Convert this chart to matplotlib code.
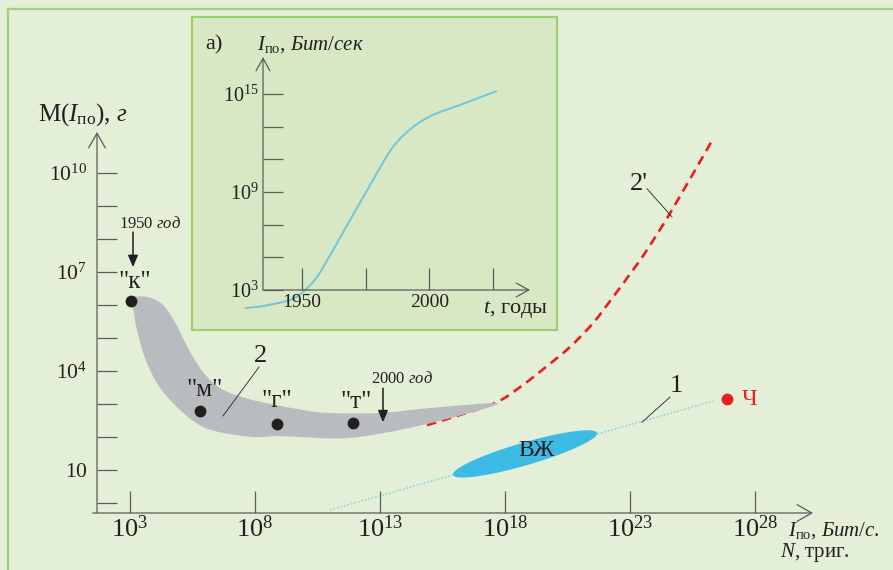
import numpy as np
import matplotlib.pyplot as plt
from matplotlib.patches import Rectangle, PathPatch
from matplotlib.lines import Line2D
from matplotlib.path import Path

plt.rcParams['font.family'] = ['Liberation Serif', 'DejaVu Serif']
plt.rcParams['mathtext.fontset'] = 'custom'
plt.rcParams['mathtext.rm'] = 'Liberation Serif'
plt.rcParams['mathtext.it'] = 'Liberation Serif:italic'
plt.rcParams['mathtext.bf'] = 'Liberation Serif:bold'

BG = '#e3efd7'
INSET_BG = '#d9e8c4'
FRAME = '#a3d07c'
AXC = '#5c5c5c'
TXT = '#231f20'

# ---- данные (показатели степени, log10) ----
# точки: "к", "м", "г", "т"
pt_names = ['"к"', '"м"', '"г"', '"т"']
pt_x = [3.04, 5.8, 8.88, 11.92]
pt_y = [6.12, 2.79, 2.39, 2.42]
# человек
ch_x = [26.88]
ch_y = [3.15]

# серая полоса (кривая 2)
band_x = [3.04, 3.72, 4.32, 4.8, 5.32, 5.92, 6.68, 7.92, 9.92, 11.0, 13.0, 15.0, 17.6,
          17.0, 14.32, 11.68, 9.0, 7.92, 6.4, 5.6, 4.8, 4.12, 3.6, 3.28, 3.1, 2.9]
band_y = [6.24, 6.24, 6.0, 5.48, 4.70, 3.97, 3.45, 3.12, 2.82, 2.73, 2.73, 2.88, 3.03,
          2.82, 2.30, 1.97, 2.03, 2.0, 2.18, 2.45, 2.97, 3.58, 4.39, 5.24, 5.95, 6.14]

# прогноз (кривая 2')
red_x = [14.88, 16.2, 17.68, 18.72, 19.68, 20.6, 21.52, 22.32, 23.12, 23.68, 24.68, 26.32]
red_y = [2.36, 2.67, 3.06, 3.58, 4.15, 4.73, 5.45, 6.24, 7.06, 7.67, 8.88, 11.03]

# прямая 1
line1_x = [11.0, 26.32]
line1_y = [-0.21, 3.09]

# область ВЖ (эллипс)
vzh_center = (18.8, 1.49)
vzh_a = (2.88, 0.636)
vzh_b = (-0.123, 0.33)

# вставка а): рост I_по по годам
years = [1927.6, 1934.7, 1945.3, 1950.4, 1955.9, 1962.2, 1970.0, 1977.9, 1985.7,
         1993.6, 2001.4, 2012.0, 2026.5]
inset_exp = [1.90, 2.02, 2.39, 2.88, 3.80, 5.45, 7.59, 9.74, 11.76, 12.98, 13.72,
             14.33, 15.19]

x_ticks = [3, 8, 13, 18, 23, 28]
y_ticks = list(range(0, 11))
y_labels = {1: '$10$', 4: '$10^{4}$', 7: '$10^{7}$', 10: '$10^{10}$'}
in_x_ticks = [1950, 1975, 2000, 2025]
in_x_labels = ['1950', '', '2000', '']
in_y_ticks = [3, 5, 7, 9, 11, 13, 15]
in_y_labels = {3: '$10^{3}$', 9: '$10^{9}$', 15: '$10^{15}$'}


# гладкий контур через точки (Catmull-Rom -> кривые Безье)
def smooth_path(xs, ys, closed=False, logx=True, logy=True):
    p = np.column_stack([xs, ys]).astype(float)
    n = len(p)
    verts = [p[0]]
    codes = [Path.MOVETO]
    segs = n if closed else n - 1
    for i in range(segs):
        if closed:
            p0, p1, p2, p3 = p[(i - 1) % n], p[i], p[(i + 1) % n], p[(i + 2) % n]
        else:
            p0 = p[max(i - 1, 0)]
            p1, p2 = p[i], p[i + 1]
            p3 = p[min(i + 2, n - 1)]
        verts += [p1 + (p2 - p0) / 6, p2 - (p3 - p1) / 6, p2]
        codes += [Path.CURVE4] * 3
    v = np.array(verts)
    if logx:
        v[:, 0] = 10.0 ** v[:, 0]
    if logy:
        v[:, 1] = 10.0 ** v[:, 1]
    return Path(v, codes)


W, H = 893, 570
fig = plt.figure(figsize=(W / 100, H / 100), dpi=100, facecolor=BG)


def fx(px):
    return px / W


def fy(py):
    return 1 - py / H


# рамка
fig.add_artist(Line2D([fx(8), fx(8)], [fy(9), 0], color=FRAME, lw=1.6))
fig.add_artist(Line2D([fx(8), 1], [fy(9), fy(9)], color=FRAME, lw=1.6))

# ---- основной график ----
ax = fig.add_axes([fx(97), fy(513), fx(813) - fx(97), fy(132) - fy(513)], zorder=0)
ax.set_facecolor('none')
ax.set_xscale('log')
ax.set_yscale('log')
ax.set_xlim(10 ** 1.68, 10 ** 30.32)
ax.set_ylim(10 ** -0.30, 10 ** 11.24)
for s in ax.spines.values():
    s.set_visible(False)
ax.minorticks_off()
ax.set_xticks([10.0 ** e for e in x_ticks])
ax.set_xticklabels(['$10^{%d}$' % e for e in x_ticks])
ax.set_yticks([10.0 ** e for e in y_ticks])
ax.set_yticklabels([y_labels.get(e, '') for e in y_ticks])
ax.tick_params(axis='x', direction='in', length=15.5, width=0.9, color=AXC,
               labelsize=19, pad=2, labelcolor=TXT)
ax.tick_params(axis='y', direction='in', length=14.5, width=0.9, color=AXC,
               labelsize=15.5, pad=7, labelcolor=TXT)

arr = dict(arrowstyle='->,head_length=1.05,head_width=0.6', color=AXC, lw=0.9,
           shrinkA=0, shrinkB=0)
ax.annotate('', xy=(0, 1), xytext=(0, 0), xycoords='axes fraction', arrowprops=arr)
ax.annotate('', xy=(1, 0), xytext=(-0.006, 0), xycoords='axes fraction', arrowprops=arr)

e = 10.0
# прямая 1 и ВЖ
ax.plot(e ** np.array(line1_x), e ** np.array(line1_y), color='#86cfe0', lw=1.0,
        ls=(0, (1.2, 1.4)), zorder=2)
t = np.linspace(0, 2 * np.pi, 120)
vx = vzh_center[0] + vzh_a[0] * np.cos(t) + vzh_b[0] * np.sin(t)
vy = vzh_center[1] + vzh_a[1] * np.cos(t) + vzh_b[1] * np.sin(t)
ax.fill(e ** vx, e ** vy, color='#3dbbe5', lw=0, zorder=3)
ax.text(e ** 19.24, e ** 1.6, 'ВЖ', fontsize=17, color=TXT, ha='center', va='center',
        zorder=4)

# кривая 2'
ax.add_patch(PathPatch(smooth_path(red_x, red_y), fill=False, edgecolor='#ec1c24',
                       lw=1.9, ls=(0, (3.6, 2.3)), zorder=2))
# полоса 2
ax.add_patch(PathPatch(smooth_path(band_x, band_y, closed=True), facecolor='#b9bcbf',
                       lw=0, zorder=3))

# точки
ax.plot(e ** np.array(pt_x), e ** np.array(pt_y), 'o', color=TXT, ms=7.5, zorder=5)
offs = [(3, 13.5), (3, 15), (0, 17), (2, 15)]
for nm, x, y, o in zip(pt_names, pt_x, pt_y, offs):
    ax.annotate(nm, (e ** x, e ** y), xytext=o, textcoords='offset points', fontsize=18,
                ha='center', va='center', color=TXT, zorder=6)
ax.plot(e ** np.array(ch_x), e ** np.array(ch_y), 'o', color='#ec1c24', ms=7.5, zorder=5)
ax.annotate('Ч', (e ** ch_x[0], e ** ch_y[0]), xytext=(11, 0), textcoords='offset points',
            fontsize=17.5, color='#ec1c24', ha='left', va='center')

# годы
yarr = dict(arrowstyle='-|>,head_length=0.7,head_width=0.3', color=TXT, lw=1.1,
            shrinkA=0, shrinkB=0)
ax.annotate('', xy=(e ** 3.12, e ** 7.15), xytext=(e ** 3.12, e ** 8.21), arrowprops=yarr)
ax.text(e ** 3.8, e ** 8.45, '1950 $\\mathit{год}$', fontsize=12, ha='center',
        va='center', color=TXT)
ax.annotate('', xy=(e ** 13.12, e ** 2.45), xytext=(e ** 13.12, e ** 3.48), arrowprops=yarr)
ax.text(e ** 13.9, e ** 3.75, '2000 $\\mathit{год}$', fontsize=12, ha='center',
        va='center', color=TXT)

# выноски
lead = dict(color=TXT, lw=0.6)
ax.plot([e ** 8.16, e ** 6.72], [e ** 4.12, e ** 2.64], zorder=4, **lead)
ax.text(e ** 8.22, e ** 4.45, '2', fontsize=19, ha='center', va='center', color=TXT)
ax.plot([e ** 24.6, e ** 23.48], [e ** 3.21, e ** 2.45], zorder=4, **lead)
ax.text(e ** 24.84, e ** 3.55, '1', fontsize=19, ha='center', va='center', color=TXT)
ax.plot([e ** 23.68, e ** 24.68], [e ** 9.52, e ** 8.67], zorder=4, **lead)
ax.text(e ** 23.7, e ** 9.65, "2'", fontsize=19, ha='right', va='center', color=TXT)

# подписи осей
fig.text(fx(38), fy(115), 'М($\\mathit{I}_{\\mathrm{по}}$), $\\mathit{г}$', fontsize=18,
         ha='left', va='center', color=TXT)
fig.text(fx(788), fy(531), '$\\mathit{I}_{\\mathrm{по}}$, $\\mathit{Бит/с.}$', fontsize=15,
         ha='left', va='center', color=TXT)
fig.text(fx(780), fy(552), '$\\mathit{N}$, триг.', fontsize=15, ha='left', va='center',
         color=TXT)

# ---- вставка а) ----
fig.add_artist(Rectangle((fx(192), fy(330)), fx(557) - fx(192), fy(17) - fy(330),
                         transform=fig.transFigure, facecolor=INSET_BG,
                         edgecolor='#9ccf6a', lw=1.5, zorder=1))

ax2 = fig.add_axes([fx(263), fy(290), fx(530) - fx(263), fy(57) - fy(290)], zorder=2)
ax2.patch.set_visible(False)
ax2.set_yscale('log')
ax2.set_xlim(1934.7, 2039.5)
ax2.set_ylim(1e3, 10 ** 17.27)
for s in ax2.spines.values():
    s.set_visible(False)
ax2.minorticks_off()
ax2.set_xticks(in_x_ticks)
ax2.set_xticklabels(in_x_labels)
ax2.set_yticks([10.0 ** k for k in in_y_ticks])
ax2.set_yticklabels([in_y_labels.get(k, '') for k in in_y_ticks])
ax2.tick_params(axis='x', direction='in', length=16, width=0.9, color=AXC,
                labelsize=14, pad=3, labelcolor=TXT)
ax2.tick_params(axis='y', direction='in', length=14.5, width=0.9, color=AXC,
                labelsize=14.5, pad=3, labelcolor=TXT)
arr2 = dict(arrowstyle='->,head_length=0.9,head_width=0.5', color=AXC, lw=0.9,
            shrinkA=0, shrinkB=0)
ax2.annotate('', xy=(0, 1), xytext=(0, 0), xycoords='axes fraction', arrowprops=arr2)
ax2.annotate('', xy=(1, 0), xytext=(0, 0), xycoords='axes fraction', arrowprops=arr2)
ax2.add_patch(PathPatch(smooth_path(years, inset_exp, logx=False), fill=False,
                        edgecolor='#6cc6dd', lw=1.4, clip_on=False))

fig.text(fx(205), fy(45), 'а)', fontsize=16, ha='left', va='center', color=TXT)
fig.text(fx(257), fy(45), '$\\mathit{I}_{\\mathrm{по}}$, $\\mathit{Бит/сек}$',
         fontsize=15, ha='left', va='center', color=TXT)
fig.text(fx(483), fy(309), '$\\mathit{t}$, годы', fontsize=16, ha='left', va='center',
         color=TXT)

fig.savefig('out.png', dpi=100, facecolor=BG)
